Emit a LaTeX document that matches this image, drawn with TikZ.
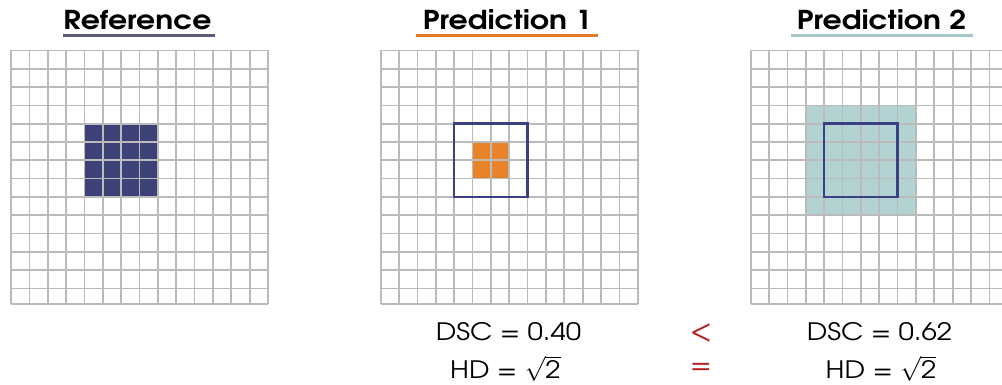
\documentclass[tikz,border=0pt]{standalone}
\usepackage{fontspec}
\setmainfont[FakeStretch=1.15]{TeX Gyre Adventor}
\definecolor{navy}{HTML}{3C4278}
\definecolor{outl}{HTML}{3A4082}
\definecolor{orng}{HTML}{E9832A}
\definecolor{teal2}{HTML}{B3D3D3}
\definecolor{refline}{HTML}{5B5B7B}
\definecolor{p1line}{HTML}{E07A2A}
\definecolor{p2line}{HTML}{A3C8C6}
\definecolor{cmpred}{HTML}{B71C1C}
\definecolor{gridc}{HTML}{BBBBBB}
\tikzset{
  gridline/.style={draw=gridc,line width=1.7pt},
  titletext/.style={font=\fontsize{26}{30}\selectfont\bfseries,inner sep=0pt},
  valtext/.style={font=\fontsize{24}{28}\selectfont,inner sep=0pt},
  cmptext/.style={font=\fontsize{26}{30}\selectfont,text=cmpred,inner sep=0pt},
  uline/.style={line width=3pt},
  outlinebox/.style={draw=outl,line width=2.6pt}
}
\newcommand\drawgridhere{%
  \foreach \i in {0,...,14} \draw[gridline] (\i*18.36,50.5) -- (\i*18.36,304);
  \foreach \j in {0,...,13} \draw[gridline] (0,50.5+\j*18.3) -- (257,50.5+\j*18.3);
  \draw[gridline] (0,304) -- (257,304);
}
\newcommand\rtwo{\smash{$\sqrt{\mbox{2}}$}}
\begin{document}
\begin{tikzpicture}[x=1pt,y=-1pt]
\useasboundingbox (0,0) rectangle (1002,385);
\clip (0,0) rectangle (1002,385);
\fill[white] (0,0) rectangle (1002,385);
% titles
\node[titletext] (t0) at (137.5,20) {Reference};
\node[titletext] (t1) at (507.5,20) {Prediction 1};
\node[titletext] (t2) at (881.5,20) {Prediction 2};
\coordinate (u0a) at (63,36); \coordinate (u0b) at (215,36);
\coordinate (u1a) at (416,36); \coordinate (u1b) at (598,36);
\coordinate (u2a) at (791,36); \coordinate (u2b) at (973,36);
\draw[uline,refline] (u0a) -- (u0b);
\draw[uline,p1line] (u1a) -- (u1b);
\draw[uline,p2line] (u2a) -- (u2b);
% panel 0
\begin{scope}[xshift=11pt]
  \fill[navy] (73.44,123.7) rectangle (146.88,196.9);
  \drawgridhere
\end{scope}
% panel 1
\begin{scope}[xshift=380.7pt]
  \fill[orng] (91.8,142) rectangle (128.52,178.6);
  \drawgridhere
  \draw[outlinebox] (73.44,123.7) rectangle (146.88,196.9);
\end{scope}
% panel 2
\begin{scope}[xshift=750.7pt]
  \fill[teal2] (55.08,105.4) rectangle (165.24,215.2);
  \drawgridhere
  \draw[outlinebox] (73.44,123.7) rectangle (146.88,196.9);
\end{scope}
% values
\node[valtext] (d1) at (508.5,332) {DSC = 0.40};
\node[valtext] (h1) at (505.5,370) {HD = \rtwo};
\node[cmptext] (lt) at (701,333) {<};
\node[cmptext] (eq) at (701,368) {=};
\node[valtext] (d2) at (879.5,332) {DSC = 0.62};
\node[valtext] (h2) at (881,370) {HD = \rtwo};
\end{tikzpicture}
\end{document}
